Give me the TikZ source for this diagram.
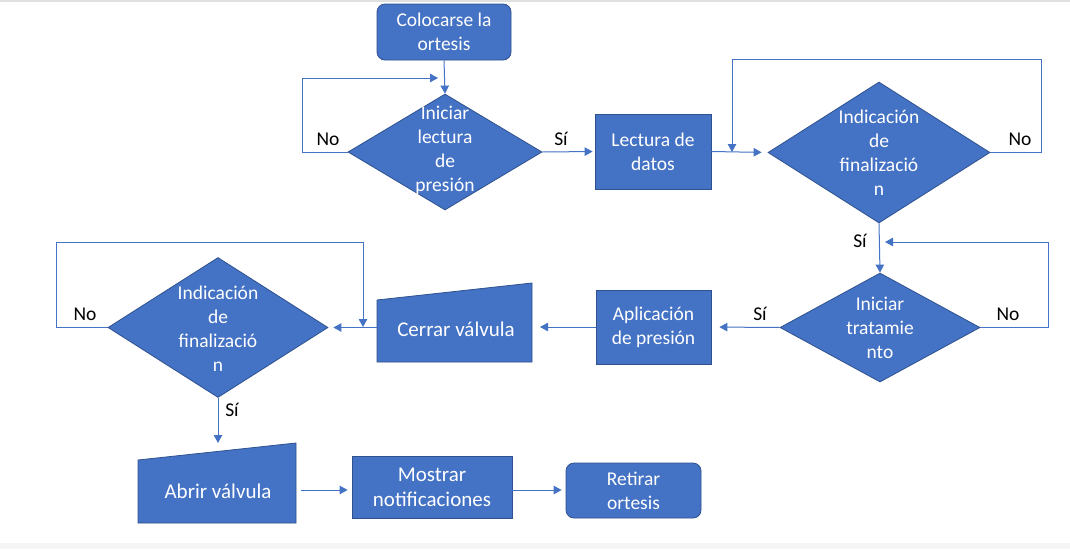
\documentclass[tikz,border=0pt]{standalone}
\usepackage{fontspec}
\setmainfont{Carlito}
\usetikzlibrary{arrows.meta,shapes.geometric,calc}
\definecolor{ofill}{HTML}{4472C4}
\definecolor{oline}{HTML}{2F528F}
\begin{document}
\begin{tikzpicture}[x=1pt,y=-1pt,
  every node/.style={font=\fontsize{19.5}{24}\selectfont},
  big/.style={font=\fontsize{21}{25}\selectfont},
  box/.style={draw=oline,line width=0.8pt,fill=ofill,text=white,align=center,inner sep=0pt},
  rbox/.style={box,rounded corners=8pt},
  dia/.style={diamond,draw=oline,line width=0.8pt,fill=ofill,inner sep=0pt},
  anchorbox/.style={inner sep=0pt,outer sep=0pt},
  manual/.style={draw=oline,line width=0.8pt,fill=ofill},
  wtext/.style={text=white,align=center,inner sep=0pt},
  lbl/.style={text=black,inner sep=0pt},
  conn/.style={draw=ofill,line width=1pt,-{Triangle[width=8.5pt,length=8pt]}},
]
\useasboundingbox (0,0) rectangle (1070,549);
\fill[white] (0,0) rectangle (1070,549);
\fill[black!12] (0,0) rectangle (1070,2);
\fill[black!4] (0,543) rectangle (1070,549);

% nodes
\node[rbox,minimum width=134,minimum height=56] (start) at (444,32) {Colocarse la\\ortesis};
\node[dia,minimum width=194,minimum height=116] (d1) at (445,152) {};
\node[wtext] (d1t) at (445,150) {Iniciar\\lectura\\de\\presión};
\node[box,minimum width=116,minimum height=75] (lectura) at (653,151.5) {Lectura de\\datos};
\node[dia,minimum width=222,minimum height=141] (d2) at (879,152.5) {};
\node[wtext] (d2t) at (879,153) {Indicación\\de\\finalizació\\n};
\node[dia,minimum width=200,minimum height=109] (d3) at (880,327.5) {};
\node[wtext] (d3t) at (880,328) {Iniciar\\tratamie\\nto};
\node[box,minimum width=115,minimum height=74] (aplic) at (653.5,327) {Aplicación\\de presión};
\node[anchorbox,minimum width=155,minimum height=79] (cerrar) at (454.5,322.5) {};
\draw[manual] (cerrar.south west) -- (cerrar.south east) -- (cerrar.north east) -- ($(cerrar.north west)+(0,17)$) -- cycle;
\node[wtext,big] (cerrart) at (456,329) {Cerrar válvula};
\node[dia,minimum width=220,minimum height=140] (d4) at (218,327.5) {};
\node[wtext] (d4t) at (218,329) {Indicación\\de\\finalizació\\n};
\node[anchorbox,minimum width=158,minimum height=80] (abrir) at (217,483) {};
\draw[manual] (abrir.south west) -- (abrir.south east) -- (abrir.north east) -- ($(abrir.north west)+(0,17)$) -- cycle;
\node[wtext,big] (abrirt) at (218,491) {Abrir válvula};
\node[box,big,minimum width=160,minimum height=62] (mostrar) at (432,487) {Mostrar\\notificaciones};
\node[rbox,minimum width=135,minimum height=55] (retirar) at (633.5,490.5) {Retirar\\ortesis};

% loop corner coordinates
\coordinate (c1a) at (302,78);
\coordinate (c1b) at (438,78);
\coordinate (c2a) at (1041,59);
\coordinate (c2b) at (732,152);
\coordinate (c3a) at (1048,242);
\coordinate (c3b) at (885,242);
\coordinate (c4a) at (56,242);
\coordinate (c4b) at (363,327);

% connectors
\draw[conn] (start.south) -- (d1.north);
\draw[conn] (d1.west) -| (c1a) -- (c1b);
\draw[conn,shorten >=2pt] (d1.east) -- (lectura.west);
\draw[conn,shorten >=6pt] (lectura.east) -- (d2.west);
\draw[conn] (d2.east) -| (c2a) -| (c2b);
\draw[conn] (d2.south) -- (d3.north);
\draw[conn] (d3.east) -| (c3a) -- (c3b);
\draw[conn,shorten >=8pt] (d3.west) -- (aplic.east);
\draw[conn,shorten >=8pt] (aplic.west) -- (aplic.west -| cerrar.east);
\draw[conn,shorten >=5pt] (cerrar.west |- d4.east) -- (d4.east);
\draw[conn] (d4.west) -| (c4a) -| (c4b);
\draw[conn] (d4.south) -- (d4.south |- abrir.north);
\draw[conn] ([xshift=5pt,yshift=-7pt]abrir.east) -- ([xshift=-4pt,yshift=-3pt]mostrar.west);
\draw[conn,shorten >=4pt] ([yshift=-3pt]mostrar.east) -- ([yshift=-3pt]mostrar.east -| retirar.west);

% labels
\node[lbl] (l1) at (328,139) {No};
\node[lbl] (l2) at (561,139) {Sí};
\node[lbl] (l3) at (1020,139) {No};
\node[lbl] (l4) at (860,241) {Sí};
\node[lbl] (l5) at (760,314) {Sí};
\node[lbl] (l6) at (1008,314) {No};
\node[lbl] (l7) at (85,314) {No};
\node[lbl] (l8) at (232,410) {Sí};
\end{tikzpicture}
\end{document}
